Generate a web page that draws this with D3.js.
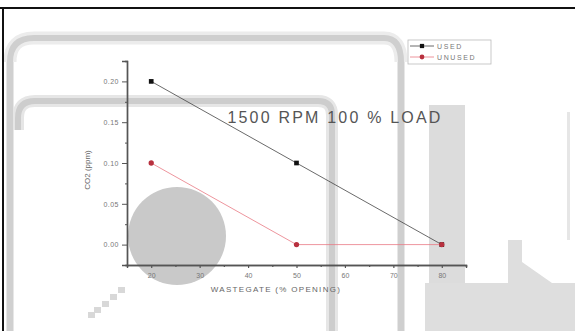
<!DOCTYPE html>
<html>
<head>
<meta charset="utf-8">
<script src="https://cdn.jsdelivr.net/npm/d3@7"></script>
<style>
  html, body { margin: 0; padding: 0; background: #fff; }
  svg { display: block; font-family: 'Liberation Sans', Arial, sans-serif; }
</style>
</head>
<body>
<div id="chart"></div>
<script>
// wastegate opening (%) vs CO2
const openings = [20, 50, 80];
const usedCO2 = [0.20, 0.10, 0.00];
const unusedCO2 = [0.10, 0.00, 0.00];
const xTicks = [20, 30, 40, 50, 60, 70, 80];
const yTicks = [0.00, 0.05, 0.10, 0.15, 0.20];
const seriesNames = ['USED', 'UNUSED'];

const W = 575, H = 331;
const svg = d3.select('#chart').append('svg').attr('width', W).attr('height', H);

// screenshot artefacts behind the plot (gray frames, bands, circle)
const bg = svg.append('g');
bg.append('rect').attr('x', 0).attr('y', 0).attr('width', W).attr('height', H).attr('fill', '#fff');
bg.append('rect').attr('x', 429).attr('y', 105).attr('width', 36).attr('height', 226).attr('fill', '#dcdcdc');
bg.append('rect').attr('x', 425).attr('y', 283).attr('width', 150).attr('height', 48).attr('fill', '#dedede');
bg.append('path').attr('d', 'M508,240 L522,240 L522,262 L552,283 L508,283 Z').attr('fill', '#dedede');
bg.append('rect').attr('x', 567).attr('y', 112).attr('width', 3).attr('height', 128).attr('fill', '#e6e6e6');
bg.append('path')
  .attr('d', 'M10,331 L10,62 Q10,38 34,38 L384,38 Q401,38 401,62 L401,331')
  .attr('fill', 'none').attr('stroke', '#d0d0d0').attr('stroke-width', 7);
bg.append('path')
  .attr('d', 'M10,62 Q10,38 34,38 L384,38 Q401,38 401,62')
  .attr('fill', 'none').attr('stroke', '#ececec').attr('stroke-width', 13);
bg.append('path')
  .attr('d', 'M10,62 Q10,38 34,38 L384,38 Q401,38 401,62 L401,331')
  .attr('fill', 'none').attr('stroke', '#cfcfcf').attr('stroke-width', 6);
bg.append('path')
  .attr('d', 'M18,130 L18,118 Q18,101 35,101 L318,101 Q332,101 332,115 L332,331')
  .attr('fill', 'none').attr('stroke', '#e6e6e6').attr('stroke-width', 12);
bg.append('path')
  .attr('d', 'M18,130 L18,118 Q18,101 35,101 L318,101 Q332,101 332,115 L332,331')
  .attr('fill', 'none').attr('stroke', '#cdcdcd').attr('stroke-width', 6);
bg.append('rect').attr('x', 7).attr('y', 60).attr('width', 6).attr('height', 271).attr('fill', '#d0d0d0');
bg.append('circle').attr('cx', 177).attr('cy', 236).attr('r', 49).attr('fill', '#c9c9c9');
[[118, 287], [110, 294], [102, 301], [94, 307], [88, 312]].forEach(([x, y]) => {
  bg.append('rect').attr('x', x).attr('y', y).attr('width', 7).attr('height', 6).attr('fill', '#d8d8d8');
});
// black frame of the screenshot
bg.append('rect').attr('x', 0).attr('y', 7).attr('width', W).attr('height', 2).attr('fill', '#111');
bg.append('rect').attr('x', 2).attr('y', 7).attr('width', 2).attr('height', H).attr('fill', '#111');

// scales
const x = d3.scaleLinear().domain([15, 85]).range([127, 466]);
const y = d3.scaleLinear().domain([-0.025, 0.225]).range([265, 61]);

const axisColor = '#555';
const labelColor = '#777';

// x axis
const gx = svg.append('g').attr('transform', `translate(0,${y.range()[0]})`);
gx.call(d3.axisBottom(x).tickValues(xTicks).tickSize(3).tickPadding(5).tickFormat(d3.format('d')));
gx.append('g').call(d3.axisBottom(x).tickValues(xTicks.map(d => d + 5)).tickSize(2).tickFormat(''));
gx.selectAll('.domain').attr('stroke', axisColor).attr('stroke-width', 1.4);
gx.selectAll('line').attr('stroke', axisColor).attr('stroke-width', 1.2);
gx.selectAll('text').attr('fill', labelColor).style('font-size', '7px');

// y axis
const gy = svg.append('g').attr('transform', `translate(${x.range()[0]},0)`);
gy.call(d3.axisLeft(y).tickValues(yTicks).tickSize(5).tickPadding(3).tickFormat(d3.format('.2f')));
gy.append('g').call(d3.axisLeft(y).tickValues([-0.025, 0.025, 0.075, 0.125, 0.175, 0.225]).tickSize(2).tickFormat(''));
gy.selectAll('.domain').attr('stroke', axisColor).attr('stroke-width', 1.4);
gy.selectAll('line').attr('stroke', axisColor).attr('stroke-width', 1);
gy.selectAll('text').attr('fill', labelColor).style('font-size', '7px').style('letter-spacing', '0.5px');

// axis titles
svg.append('text')
  .attr('x', 276).attr('y', 292)
  .attr('text-anchor', 'middle')
  .attr('fill', '#666')
  .style('font-size', '8px').style('letter-spacing', '1.3px')
  .text('WASTEGATE (% OPENING)');
svg.append('text')
  .attr('transform', 'translate(90,170) rotate(-90)')
  .attr('text-anchor', 'middle')
  .attr('fill', '#666')
  .style('font-size', '8px')
  .text('CO2 (ppm)');

// chart title
svg.append('text')
  .attr('x', 335).attr('y', 123)
  .attr('text-anchor', 'middle')
  .attr('fill', '#555')
  .style('font-size', '16px').style('letter-spacing', '2.2px')
  .text('1500 RPM 100 % LOAD');

// series
const series = [
  { name: seriesNames[0], values: usedCO2, line: '#444', mark: '#111', shape: 'square' },
  { name: seriesNames[1], values: unusedCO2, line: '#e87a84', mark: '#b8303e', shape: 'circle' },
];
const line = d3.line().x((d, i) => x(openings[i])).y(d => y(d));

series.forEach(s => {
  svg.append('path')
    .datum(s.values)
    .attr('fill', 'none')
    .attr('stroke', s.line)
    .attr('stroke-width', 0.8)
    .attr('d', line);
  svg.selectAll(null)
    .data(s.values)
    .join('path')
    .attr('transform', (d, i) => `translate(${x(openings[i])},${y(d)})`)
    .attr('d', d3.symbol().type(s.shape === 'square' ? d3.symbolSquare : d3.symbolCircle).size(22))
    .attr('fill', s.mark);
});

// legend
const lg = svg.append('g');
lg.append('rect').attr('x', 408).attr('y', 40).attr('width', 83).attr('height', 24)
  .attr('fill', '#fff').attr('stroke', '#bbb').attr('stroke-width', 0.8);
series.forEach((s, i) => {
  const ly = 46 + i * 11;
  lg.append('line').attr('x1', 410).attr('x2', 434).attr('y1', ly).attr('y2', ly)
    .attr('stroke', s.line).attr('stroke-width', 0.8);
  lg.append('path')
    .attr('transform', `translate(422,${ly})`)
    .attr('d', d3.symbol().type(s.shape === 'square' ? d3.symbolSquare : d3.symbolCircle).size(18))
    .attr('fill', s.mark);
  lg.append('text').attr('x', 437).attr('y', ly + 2.5)
    .attr('fill', '#777')
    .style('font-size', '7px').style('letter-spacing', '1.6px')
    .text(s.name);
});
</script>
</body>
</html>
